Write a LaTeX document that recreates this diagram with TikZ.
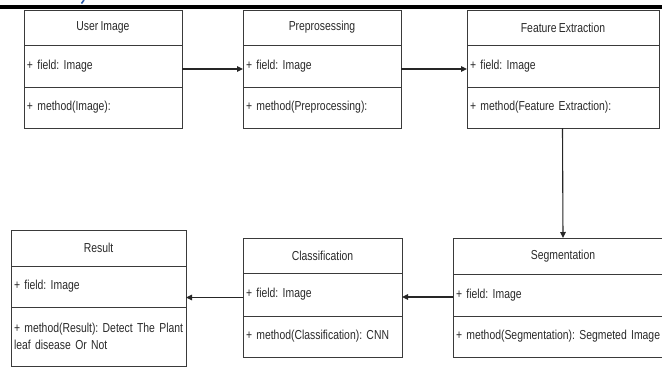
\documentclass[tikz,border=0pt]{standalone}
\usepackage{fontspec}
\setmainfont{Liberation Sans}[FakeStretch=0.8, WordSpace=0.75]
\usetikzlibrary{arrows.meta}
\definecolor{linec}{HTML}{3A3A3A}
\definecolor{txtc}{HTML}{2A2A2A}
\definecolor{bluec}{HTML}{2B5BA8}
\frenchspacing
\tikzset{
  comp/.style n args={2}{draw=linec, line width=0.9pt, anchor=north west,
    minimum width=#1, minimum height=#2, inner sep=0pt, outer sep=0pt,
    font=\fontsize{13}{15.5}\selectfont, text=txtc},
  ttl/.style={align=center},
  lft/.style={align=left, inner xsep=3pt, text width=#1, inner ysep=0pt},
  flow/.style={draw=black!85, line width=1.1pt, -{Triangle[length=6pt,width=5.5pt]}},
}
\begin{document}
\begin{tikzpicture}[x=1pt,y=-1pt]
\useasboundingbox (0,0) rectangle (662,368);
\clip (0,0) rectangle (662,368);
\fill[white] (0,0) rectangle (662,368);
% top rule and cropped blue mark
\fill[black] (0,5) rectangle (662,8.5);
\draw[bluec, line width=1.6pt] (84,0) -- (81.5,3.5);

% User Image
\node[comp={158pt}{35pt}, ttl] (u-t) at (24,10) {User Image};
\node[comp={158pt}{42pt}, lft=152pt] (u-f) at (24,45) {+ field: Image};
\node[comp={158pt}{41pt}, lft=152pt] (u-m) at (24,87) {+ method(Image):};

% Preprosessing
\node[comp={158pt}{35pt}, ttl] (p-t) at (243,10) {Preprosessing};
\node[comp={158pt}{42pt}, lft=152pt] (p-f) at (243,45) {+ field: Image};
\node[comp={158pt}{41pt}, lft=152pt] (p-m) at (243,87) {+ method(Preprocessing):};

% Feature Extraction
\node[comp={192pt}{35pt}, ttl] (f-t) at (467,10) {Feature Extraction};
\node[comp={192pt}{42pt}, lft=186pt] (f-f) at (467,45) {+ field: Image};
\node[comp={192pt}{41pt}, lft=186pt] (f-m) at (467,87) {+ method(Feature Extraction):};

% Segmentation
\node[comp={220pt}{36pt}, ttl] (s-t) at (453,238) {Segmentation};
\node[comp={220pt}{42pt}, lft=214pt] (s-f) at (453,274) {+ field: Image};
\node[comp={220pt}{41pt}, lft=214pt] (s-m) at (453,316) {+ method(Segmentation): Segmeted Image};

% Classification
\node[comp={159pt}{35pt}, ttl] (c-t) at (243,238) {Classification};
\node[comp={159pt}{43pt}, lft=153pt] (c-f) at (243,273) {+ field: Image};
\node[comp={159pt}{41pt}, lft=153pt] (c-m) at (243,316) {+ method(Classification): CNN};

% Result
\node[comp={175pt}{36pt}, ttl] (r-t) at (11,230) {Result};
\node[comp={175pt}{41pt}, lft=169pt] (r-f) at (11,266) {+ field: Image};
\node[comp={175pt}{59pt}, lft=169pt] (r-m) at (11,307) {\mbox{+ method(Result): Detect The Plant}\\[1pt]leaf disease Or Not};

% connectors
\draw[flow] ([yshift=-3pt]u-f.east) -- ([yshift=-3pt]p-f.west);
\draw[flow] ([yshift=-3pt]p-f.east) -- ([yshift=-3pt]f-f.west);
\draw[flow] ([xshift=-0.5pt]f-m.south) -- (f-m.south |- s-t.north);
\draw[flow] ([yshift=-2pt]s-f.west) -- ([yshift=-2pt]s-f.west -| c-f.east);
\draw[flow] ([yshift=-3pt]c-f.west) -- ([yshift=-3pt]c-f.west -| r-f.east);
\end{tikzpicture}
\end{document}
